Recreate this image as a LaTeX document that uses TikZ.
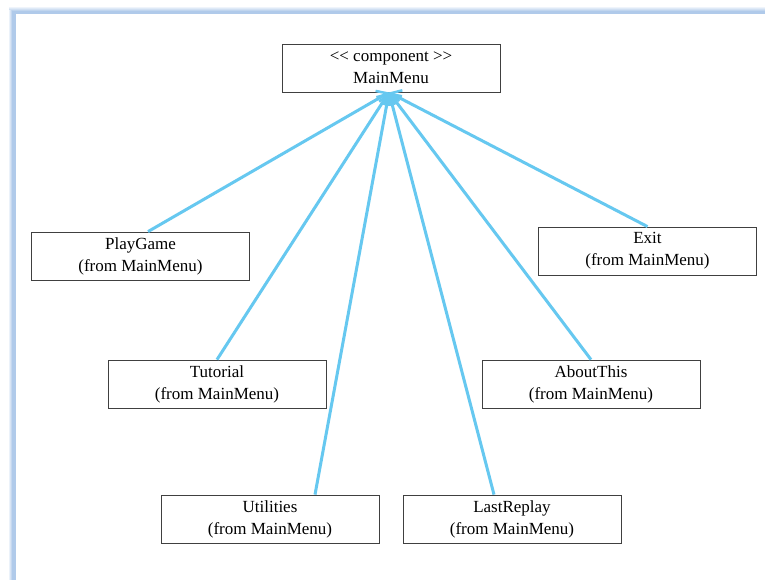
\documentclass[tikz,border=0pt]{standalone}
\usepackage{fontspec}
\setmainfont{Liberation Serif}
\usetikzlibrary{arrows.meta}
\definecolor{lnk}{RGB}{102,200,240}
\definecolor{frm}{RGB}{176,202,234}
\tikzset{
  comp/.style={draw=black!75, line width=0.8pt, fill=white, minimum width=218pt, minimum height=48pt,
    align=center, inner sep=0pt, font=\fontsize{17}{22}\selectfont},
  dep/.style={draw=lnk, line width=3pt, -{Straight Barb[length=9pt,width=16pt,line width=2.5pt]}}
}
\begin{document}
\begin{tikzpicture}[x=1pt,y=-1pt]
\useasboundingbox (0,0) rectangle (765,580);
\fill[white] (0,0) rectangle (765,580);
% frame
\shade[top color=white, bottom color=frm] (9,6) rectangle (765,11);
\shade[left color=white, right color=frm] (8,11) rectangle (12,580);
\fill[frm] (12,11) rectangle (765,14);
\fill[frm] (12,11) rectangle (16,580);
% nodes
\node[comp] (main) at (391,68) {<\kern0pt< component >\kern0pt>\\MainMenu};
\node[comp] (play) at (140.5,256) {PlayGame\\(from MainMenu)};
\node[comp] (exit) at (647.5,251) {Exit\\(from MainMenu)};
\node[comp] (tut) at (217,384) {Tutorial\\(from MainMenu)};
\node[comp] (about) at (591,384) {AboutThis\\(from MainMenu)};
\node[comp] (util) at (270,519) {Utilities\\(from MainMenu)};
\node[comp] (last) at (512,519) {LastReplay\\(from MainMenu)};
\coordinate (apex) at ([xshift=-2pt]main.south);
% connectors
\draw[dep] ([xshift=7.5pt]play.north) -- (apex);
\draw[dep] (tut.north) -- (apex);
\draw[dep] ([xshift=45pt]util.north) -- (apex);
\draw[dep] ([xshift=-18pt]last.north) -- (apex);
\draw[dep] (about.north) -- (apex);
\draw[dep] (exit.north) -- (apex);
\end{tikzpicture}
\end{document}
